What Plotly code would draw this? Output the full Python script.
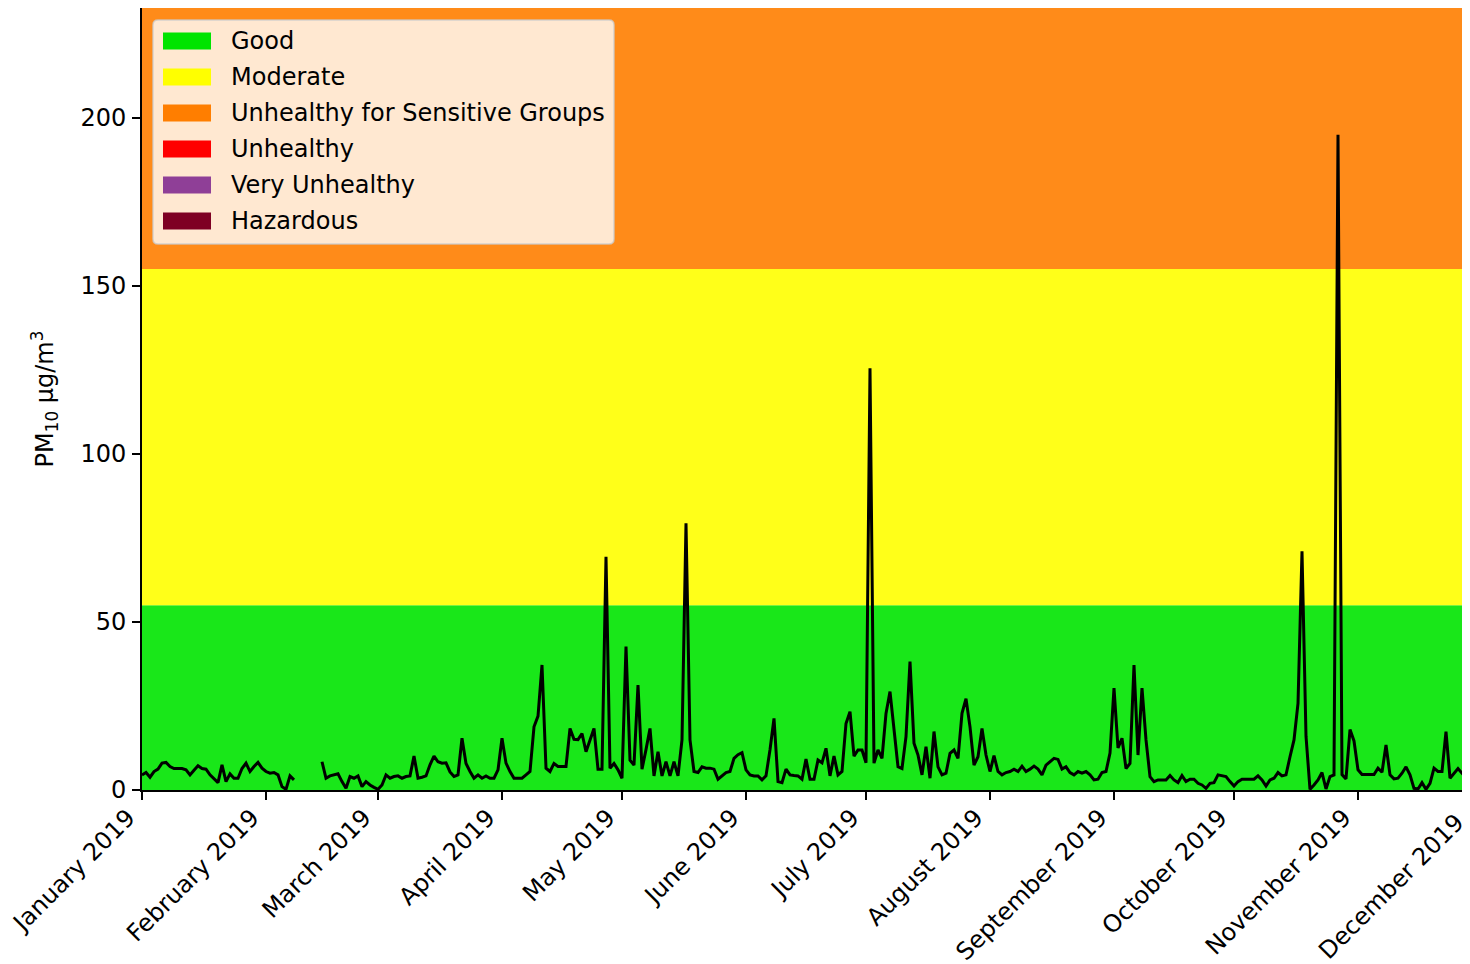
import pandas as pd
import plotly.graph_objects as go

# ---------------- data ----------------
# Daily PM10 (µg/m³), one list per month, starting on the 1st of each month (None = missing)
jan = [4.5, 5.2, 3.8, 5.5, 6.2, 8, 8.2, 7, 6.4, 6.4, 6.4, 6, 4.5, 5.9, 7.2, 6.4, 6.2, 4.5, 3.2, 2.2,
       7.5, 2.5, 4.8, 3.5, 3.5, 6.4, 8, 5.5, 7, 8.2, 6.5]
feb = [5.5, 5, 5.2, 4.5, 1, 0.2, 4.2, 3, None, None, None, None, None, None,
       8.4, 3.5, 4.2, 4.5, 4.8, 2.5, 0.5, 4, 3.5, 4.2, 1, 2.5, 1.5, 0.8]
mar = [0.2, 1.5, 4.5, 3.5, 4, 4.2, 3.5, 4, 4.2, 10.1, 3.5, 3.8, 4.2, 7.5, 10.1, 8.4, 8, 8.1, 5.4, 4,
       4.5, 15.4, 7.9, 5.5, 3.5, 4.5, 3.5, 4.2, 3.5, 3.5, 6]
apr = [15.4, 8, 5.5, 3.5, 3.5, 3.5, 4.5, 5.5, 18.8, 22, 37.2, 6.5, 5.5, 7.9, 7, 7, 7, 18.3, 15.1, 15,
       16.8, 11.4, 15, 18.3, 6.2, 6.2, 69.4, 6.5, 7.9, 6]
may = [3.5, 42.7, 8.9, 7.4, 31.2, 6.2, 12, 18.3, 4.2, 11.4, 4.2, 8.4, 4.2, 8.4, 4.2, 14.9, 79.4, 14.9,
       5.5, 5.2, 6.9, 6.5, 6.5, 6.2, 3.2, 4.2, 5.2, 5.5, 9.4, 10.5, 11.1]
jun = [6, 4.5, 4.2, 4.2, 3, 4.2, 12, 21.3, 2.5, 2.2, 6.2, 4.5, 4.3, 4.2, 3.2, 9.2, 3.2, 3.2, 8.9, 8.1,
       12.4, 4.2, 10.1, 4.5, 5.5, 19.8, 23.3, 10.1, 11.9, 11.9]
jul = [8.1, 125.5, 8, 11.9, 9.4, 22.8, 29.3, 18, 6.9, 6.4, 15.9, 38.2, 13.9, 10.4, 4.5, 12.9, 3.5, 17.4,
       6.9, 4.5, 5, 10.9, 11.9, 9.4, 22.8, 27.2, 18.8, 7.4, 9.9, 18.3, 10.4]
aug = [5.5, 10.2, 5.5, 4.5, 5.2, 5.5, 6.2, 5.5, 7.1, 5.5, 6.2, 7.1, 6.2, 4.5, 7.4, 8.4, 9.4, 9.1, 6.2,
       6.9, 5.2, 4.5, 5.5, 5, 5.5, 4.5, 3, 3.2, 5.2, 5.5, 11]
sep = [30.3, 12.5, 15.4, 6.4, 7.9, 37.2, 10.4, 30.3, 14.9, 4, 2.5, 3, 3, 3, 4.3, 3, 2.2, 4.3, 2.5, 3.2,
       3.2, 2, 1.5, 0.5, 2, 2.2, 4.5, 4.2, 4, 2.5]
oct_ = [1.2, 2.5, 3.2, 3.2, 3.2, 3.2, 4.2, 3, 1.2, 3, 3.5, 5.2, 4.2, 4.5, 9.9, 14.9, 25.8, 71, 16, 0.2,
        1.5, 3, 5.2, 0.3, 4, 4.5, 195, 4.6, 3.3, 18, 14.6]
nov = [6, 4.6, 4.6, 4.6, 4.6, 6.5, 5.3, 13.4, 4.5, 3.3, 3.5, 5, 6.9, 4.5, 0.5, 0.3, 2.2, 0.2, 2, 6.5,
       5.5, 5.5, 17.4, 3.5, 5, 6.4, 5, 6, 1]

month_starts = ["2019-01-01", "2019-02-01", "2019-03-01", "2019-04-01", "2019-05-01", "2019-06-01",
                "2019-07-01", "2019-08-01", "2019-09-01", "2019-10-01", "2019-11-01", "2019-12-01"]
month_labels = ["January 2019", "February 2019", "March 2019", "April 2019", "May 2019", "June 2019",
                "July 2019", "August 2019", "September 2019", "October 2019", "November 2019",
                "December 2019"]

categories = ["Good", "Moderate", "Unhealthy for Sensitive Groups", "Unhealthy", "Very Unhealthy",
              "Hazardous"]
breakpoints = [0, 55, 155, 255, 355, 425, 605]
colors = ["#00e400", "#ffff00", "#ff7e00", "#ff0000", "#8f3f97", "#7e0023"]

x_start = "2019-01-01"
x_end = "2019-11-28 12:00"
y_max = 232.7

# ---------------- build series ----------------
monthly = [jan, feb, mar, apr, may, jun, jul, aug, sep, oct_, nov]
dates, values = [], []
for start, vals in zip(month_starts, monthly):
    dates.extend(pd.date_range(start, periods=len(vals), freq="D"))
    values.extend(vals)

# ---------------- geometry (page body has an 8px margin) ----------------
OFF = 8
W, H = 1470 - OFF, 964 - OFF
L, R, T, B = 142 - OFF, 1468 - OFF, 8 - OFF, 790 - OFF
FONT = "DejaVu Sans"
FS = 24


def pxx(x):
    return (x - OFF - L) / (R - L)


def pxy(y):
    return (B - (y - OFF)) / (B - T)


fig = go.Figure()
fig.add_trace(go.Scatter(x=dates, y=values, mode="lines", line=dict(color="black", width=3),
                         connectgaps=False, showlegend=False, hoverinfo="x+y"))

shapes = []
# AQI bands
for lo, hi, c in zip(breakpoints[:-1], breakpoints[1:], colors):
    if lo >= y_max:
        continue
    shapes.append(dict(type="rect", xref="paper", yref="y", x0=0, x1=1, y0=lo, y1=min(hi, y_max),
                       fillcolor=c, opacity=0.9, line=dict(width=0), layer="below"))

# legend frame (rounded)
x0, x1, yt, yb = pxx(153), pxx(614), pxy(20), pxy(244)
rx, ry = 5 / (R - L), 5 / (B - T)
path = (f"M {x0 + rx},{yt} L {x1 - rx},{yt} Q {x1},{yt} {x1},{yt - ry} L {x1},{yb + ry} "
        f"Q {x1},{yb} {x1 - rx},{yb} L {x0 + rx},{yb} Q {x0},{yb} {x0},{yb + ry} "
        f"L {x0},{yt - ry} Q {x0},{yt} {x0 + rx},{yt} Z")
shapes.append(dict(type="path", xref="paper", yref="paper", path=path,
                   fillcolor="rgba(255,255,255,0.8)", line=dict(color="rgba(204,204,204,0.8)", width=1.5),
                   layer="above"))

annotations = []
for i, (name, c) in enumerate(zip(categories, colors)):
    cy = 41 + 36 * i
    shapes.append(dict(type="rect", xref="paper", yref="paper", x0=pxx(163), x1=pxx(211),
                       y0=pxy(cy + 8.5), y1=pxy(cy - 8.5), fillcolor=c, line=dict(width=0),
                       layer="above"))
    annotations.append(dict(text=name, xref="paper", yref="paper", x=pxx(229), y=pxy(cy),
                            xanchor="left", yanchor="middle", showarrow=False,
                            font=dict(family=FONT, size=FS, color="black")))

# last month label: its tick lies just beyond the cropped right edge of the axis
span_days = (pd.Timestamp(x_end) - pd.Timestamp(x_start)) / pd.Timedelta(days=1)
dec_days = (pd.Timestamp(month_starts[-1]) - pd.Timestamp(x_start)) / pd.Timedelta(days=1)
annotations.append(dict(text=month_labels[-1], xref="paper", yref="paper", x=dec_days / span_days, y=0,
                        xanchor="right", yanchor="top", xshift=-6, yshift=-16, textangle=-45,
                        showarrow=False, font=dict(family=FONT, size=FS, color="black")))

fig.update_layout(
    width=W, height=H,
    margin=dict(l=L, r=W - R, t=T, b=H - B, autoexpand=False),
    paper_bgcolor="white", plot_bgcolor="white",
    font=dict(family=FONT, size=FS, color="black"),
    shapes=shapes, annotations=annotations, showlegend=False,
    xaxis=dict(type="date", range=[x_start, x_end], tickmode="array", tickvals=month_starts[:-1],
               ticktext=month_labels[:-1], tickangle=-45, ticks="outside", ticklen=8, tickwidth=2,
               tickcolor="black", showline=True, linecolor="black", linewidth=2, mirror=True,
               showgrid=False, zeroline=False, ticklabelshift=-14, ticklabelstandoff=-6,
               ticklabeloverflow="allow",
               tickfont=dict(family=FONT, size=FS, color="black")),
    yaxis=dict(range=[0, y_max], tickvals=[0, 50, 100, 150, 200], ticks="outside", ticklen=8,
               tickwidth=2, tickcolor="black", showline=True, linecolor="black", linewidth=2,
               mirror=False, showgrid=False, zeroline=False, ticklabelstandoff=1,
               tickfont=dict(family=FONT, size=FS, color="black"),
               title=dict(text="PM<sub>10</sub> μg/m<sup>3</sup>", standoff=20,
                          font=dict(family=FONT, size=FS, color="black"))),
)

fig.write_html("out.html")
